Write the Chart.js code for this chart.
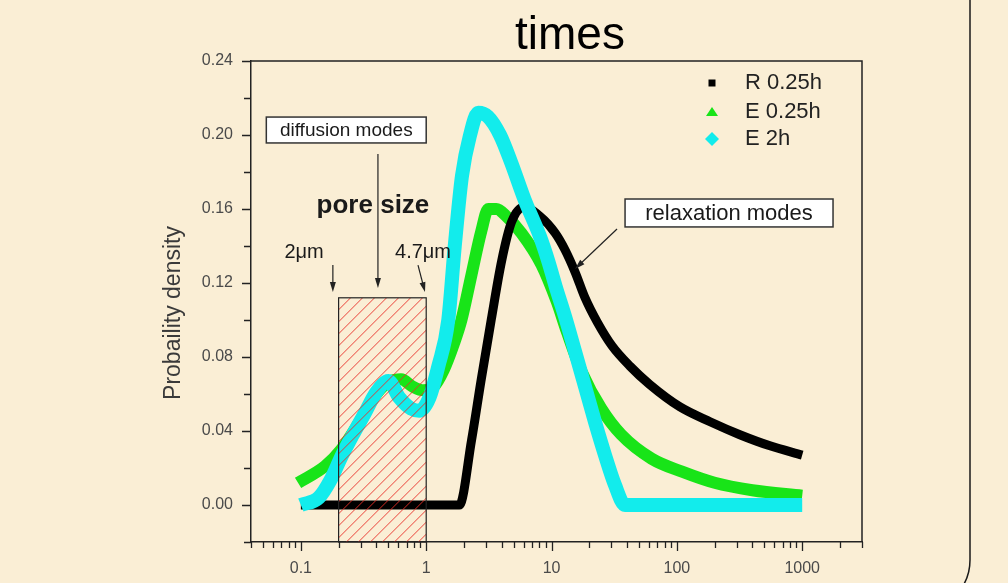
<!DOCTYPE html>
<html>
<head>
<meta charset="utf-8">
<title>Probability density of relaxation times</title>
<script src="https://cdn.jsdelivr.net/npm/chart.js@4.4.1/dist/chart.umd.min.js"></script>
<style>
  html, body { margin: 0; padding: 0; background: #faeed5; }
  canvas { display: block; }
</style>
</head>
<body>
<canvas id="densityChart" width="1008" height="583"></canvas>
<script>
// decade labels on the time axis
var xTickLabels = [0.1, 1, 10, 100, 1000];
var seriesNames = ['R 0.25h', 'E 0.25h', 'E 2h'];

// R 0.25h
var r025X = [0.1, 0.5, 1.84, 2.3, 2.75, 3.3, 4.0, 4.8, 6.0, 8.1, 10.7, 12.8, 15.4, 18.5, 23.1, 30.4, 42.3, 61, 106, 184, 318, 553, 1000];
var r025Y = [0, 0, 0, 0.035, 0.068, 0.100, 0.132, 0.153, 0.161, 0.156, 0.147, 0.138, 0.126, 0.112, 0.099, 0.086, 0.075, 0.065, 0.053, 0.045, 0.038, 0.032, 0.027];

// E 0.25h
var e025X = [0.095, 0.156, 0.21, 0.30, 0.40, 0.52, 0.63, 0.78, 0.95, 1.15, 1.38, 1.66, 1.91, 2.29, 2.75, 3.13, 3.63, 4.37, 5.75, 8.3, 11.0, 13.2, 17.4, 25, 36, 63, 110, 200, 400, 1000];
var e025Y = [0.012, 0.021, 0.030, 0.046, 0.060, 0.067, 0.068, 0.064, 0.062, 0.064, 0.073, 0.087, 0.100, 0.124, 0.148, 0.160, 0.160, 0.156, 0.147, 0.130, 0.110, 0.094, 0.072, 0.052, 0.038, 0.025, 0.018, 0.012, 0.008, 0.005];

// E 2h
var e2X = [0.1, 0.139, 0.174, 0.21, 0.26, 0.32, 0.40, 0.50, 0.61, 0.76, 0.88, 1.06, 1.25, 1.5, 1.69, 1.93, 2.24, 2.6, 3.1, 3.88, 4.77, 6.1, 8.1, 9.4, 10.8, 12.8, 15.4, 18.5, 22.2, 26.7, 32, 38.6, 1000];
var e2Y = [0, 0.004, 0.014, 0.026, 0.038, 0.049, 0.061, 0.067, 0.058, 0.052, 0.051, 0.058, 0.075, 0.100, 0.140, 0.178, 0.200, 0.212, 0.210, 0.200, 0.185, 0.165, 0.145, 0.132, 0.118, 0.102, 0.083, 0.064, 0.045, 0.027, 0.011, 0, 0];

// pore size window (hatched), in axis units
var poreBox = { from: 0.2, to: 1, top: 0.112 };

var FONT = '"Liberation Sans", Arial, sans-serif';
Chart.defaults.font.family = FONT;

function points(xs, ys) {
    return xs.map(function (x, i) { return { x: x, y: ys[i] }; });
}

function isMajorY(v) {
    var c = Math.round(v * 100);
    return c >= 0 && c % 4 === 0;
}

// background, slide border and the heading
var paper = {
    id: 'paper',
    beforeDraw: function (chart) {
        var ctx = chart.ctx;
        ctx.save();
        ctx.fillStyle = '#faeed5';
        ctx.fillRect(0, 0, chart.width, chart.height);

        ctx.strokeStyle = '#1a1a1a';
        ctx.lineWidth = 1.5;
        ctx.beginPath();
        ctx.moveTo(970, 0);
        ctx.lineTo(970, 560);
        ctx.arcTo(970, 610, 920, 610, 50);
        ctx.stroke();

        ctx.fillStyle = '#000';
        ctx.font = '46px ' + FONT;
        ctx.textAlign = 'center';
        ctx.textBaseline = 'alphabetic';
        ctx.fillText('times', 570, 49);
        ctx.restore();
    }
};

var overlay = {
    id: 'overlay',
    afterDatasetsDraw: function (chart) {
        var ctx = chart.ctx, xs = chart.scales.x, ys = chart.scales.y, area = chart.chartArea;
        function px(v) { return xs.getPixelForValue(v); }
        function py(v) { return ys.getPixelForValue(v); }

        function arrow(x1, y1, x2, y2) {
            var a = px(x1), b = py(y1), c = px(x2), d = py(y2);
            var ang = Math.atan2(d - b, c - a), co = Math.cos(ang), si = Math.sin(ang);
            ctx.strokeStyle = '#222';
            ctx.lineWidth = 1.2;
            ctx.beginPath();
            ctx.moveTo(a, b);
            ctx.lineTo(c - 6 * co, d - 6 * si);
            ctx.stroke();
            ctx.fillStyle = '#222';
            ctx.beginPath();
            ctx.moveTo(c, d);
            ctx.lineTo(c - 10 * co + 3 * si, d - 10 * si - 3 * co);
            ctx.lineTo(c - 10 * co - 3 * si, d - 10 * si + 3 * co);
            ctx.closePath();
            ctx.fill();
        }

        function textBox(x1, x2, y1, y2, text, size) {
            var l = px(x1), r = px(x2), t = py(y2), b = py(y1);
            ctx.fillStyle = '#fff';
            ctx.fillRect(l, t, r - l, b - t);
            ctx.strokeStyle = '#333';
            ctx.lineWidth = 1.5;
            ctx.strokeRect(l, t, r - l, b - t);
            ctx.fillStyle = '#1a1a1a';
            ctx.font = size + 'px ' + FONT;
            ctx.textAlign = 'center';
            ctx.textBaseline = 'middle';
            ctx.fillText(text, (l + r) / 2, (t + b) / 2 + 1);
        }

        function label(x, y, text, font) {
            ctx.fillStyle = '#1a1a1a';
            ctx.font = font;
            ctx.textAlign = 'center';
            ctx.textBaseline = 'alphabetic';
            ctx.fillText(text, px(x), py(y));
        }

        ctx.save();

        // hatched pore window
        var bl = px(poreBox.from), br = px(poreBox.to), bt = py(poreBox.top), bb = area.bottom;
        ctx.save();
        ctx.beginPath();
        ctx.rect(bl, bt, br - bl, bb - bt);
        ctx.clip();
        ctx.strokeStyle = 'rgba(232, 48, 40, 0.9)';
        ctx.lineWidth = 1;
        ctx.beginPath();
        var h = bb - bt;
        for (var d = -h; d < br - bl + h; d += 12) {
            ctx.moveTo(bl + d, bb);
            ctx.lineTo(bl + d + h, bt);
        }
        ctx.stroke();
        ctx.restore();
        ctx.strokeStyle = '#222';
        ctx.lineWidth = 1.2;
        ctx.strokeRect(bl, bt, br - bl, bb - bt);

        // call-outs
        textBox(0.053, 1.0, 0.1957, 0.2097, 'diffusion modes', 19);
        arrow(0.412, 0.1897, 0.412, 0.1173);
        label(0.376, 0.1578, 'pore size', 'bold 26px ' + FONT);
        label(0.106, 0.1335, '2\u03bcm', '20px ' + FONT);
        arrow(0.18, 0.1297, 0.18, 0.1151);
        label(0.943, 0.1335, '4.7\u03bcm', '20px ' + FONT);
        arrow(0.86, 0.1297, 0.978, 0.1151);
        textBox(38.6, 1762, 0.1503, 0.1654, 'relaxation modes', 22);
        arrow(33.3, 0.1492, 15.4, 0.1276);

        // legend
        var mx = area.right - 150, tx = area.right - 117;
        var rows = [area.top + 22, area.top + 51, area.top + 78];
        chart.data.datasets.forEach(function (ds, i) {
            var y = rows[i];
            ctx.fillStyle = ds.borderColor;
            ctx.beginPath();
            if (i === 0) {
                ctx.rect(mx - 3.5, y - 3.5, 7, 7);
            } else if (i === 1) {
                ctx.moveTo(mx, y - 5);
                ctx.lineTo(mx + 6, y + 4);
                ctx.lineTo(mx - 6, y + 4);
            } else {
                ctx.moveTo(mx, y - 7);
                ctx.lineTo(mx + 7, y);
                ctx.lineTo(mx, y + 7);
                ctx.lineTo(mx - 7, y);
            }
            ctx.closePath();
            ctx.fill();
            ctx.fillStyle = '#222';
            ctx.font = '22px ' + FONT;
            ctx.textAlign = 'left';
            ctx.textBaseline = 'middle';
            ctx.fillText(ds.label, tx, y);
        });

        ctx.restore();
    },
    afterDraw: function (chart) {
        var ctx = chart.ctx, xs = chart.scales.x, ys = chart.scales.y, area = chart.chartArea;
        ctx.save();
        ctx.strokeStyle = '#222';
        ctx.lineWidth = 1.5;
        ctx.beginPath();
        ctx.moveTo(area.left, area.top);
        ctx.lineTo(area.right, area.top);
        ctx.lineTo(area.right, area.bottom);
        ctx.stroke();

        // outward tick marks
        ctx.lineWidth = 1.3;
        ctx.beginPath();
        xs.ticks.forEach(function (t) {
            var p = Math.round(xs.getPixelForValue(t.value)) + 0.5;
            var len = xTickLabels.indexOf(t.value) >= 0 ? 9 : 6;
            ctx.moveTo(p, area.bottom);
            ctx.lineTo(p, area.bottom + len);
        });
        ys.ticks.forEach(function (t) {
            var p = Math.round(ys.getPixelForValue(t.value)) + 0.5;
            var len = isMajorY(t.value) ? 9 : 7;
            ctx.moveTo(area.left, p);
            ctx.lineTo(area.left - len, p);
        });
        ctx.stroke();

        // y axis title
        ctx.translate(174, 313);
        ctx.rotate(-Math.PI / 2);
        ctx.fillStyle = '#3a3a3a';
        ctx.font = '23px ' + FONT;
        ctx.textAlign = 'center';
        ctx.textBaseline = 'middle';
        ctx.fillText('Probaility density', 0, 0);
        ctx.restore();
    }
};

var ctx = document.getElementById('densityChart');

new Chart(ctx, {
    type: 'line',
    data: {
        datasets: [
            {
                label: seriesNames[0],
                data: points(r025X, r025Y),
                borderColor: '#000000',
                borderWidth: 9,
                order: 1
            },
            {
                label: seriesNames[1],
                data: points(e025X, e025Y),
                borderColor: '#18e418',
                borderWidth: 12,
                order: 2
            },
            {
                label: seriesNames[2],
                data: points(e2X, e2Y),
                borderColor: '#12ecec',
                borderWidth: 14,
                order: 0
            }
        ]
    },
    options: {
        responsive: false,
        animation: false,
        datasets: {
            line: {
                pointRadius: 0,
                fill: false,
                cubicInterpolationMode: 'monotone',
                borderJoinStyle: 'round',
                borderCapStyle: 'butt'
            }
        },
        layout: { padding: { left: 0, top: 61, right: 146, bottom: 0 } },
        plugins: {
            legend: { display: false },
            title: { display: false },
            tooltip: { enabled: false }
        },
        scales: {
            x: {
                type: 'logarithmic',
                min: 0.04,
                max: 3000,
                afterBuildTicks: function (scale) {
                    var ticks = [];
                    for (var e = -2; e <= 3; e++) {
                        for (var k = 1; k <= 9; k++) {
                            var v = parseFloat(k + 'e' + e);
                            if (v >= scale.min && v <= scale.max) ticks.push({ value: v });
                        }
                    }
                    scale.ticks = ticks;
                },
                afterFit: function (scale) { scale.height = 41; },
                grid: { display: false, drawTicks: false },
                border: { display: true, color: '#222', width: 1.5 },
                ticks: {
                    autoSkip: false,
                    maxRotation: 0,
                    padding: 17,
                    color: '#4a4a4a',
                    font: { size: 16 },
                    callback: function (v) {
                        return xTickLabels.indexOf(v) >= 0 ? String(v) : '';
                    }
                }
            },
            y: {
                min: -0.02,
                max: 0.24,
                afterFit: function (scale) { scale.width = 251; },
                grid: { display: false, drawTicks: false },
                border: { display: true, color: '#222', width: 1.5 },
                ticks: {
                    stepSize: 0.02,
                    padding: 18,
                    color: '#4a4a4a',
                    font: { size: 16 },
                    callback: function (v) {
                        return isMajorY(v) ? (Math.round(v * 100) / 100).toFixed(2) : '';
                    }
                }
            }
        }
    },
    plugins: [paper, overlay]
});
</script>
</body>
</html>
